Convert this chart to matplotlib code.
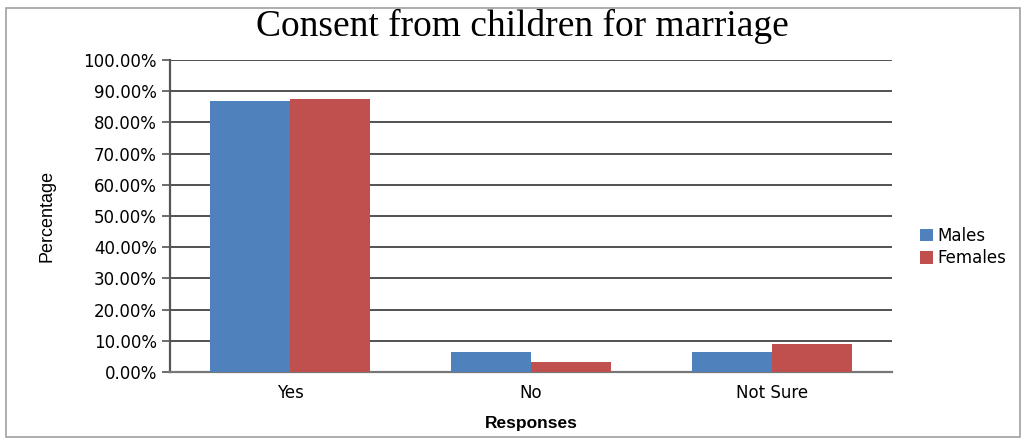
import numpy as np
import matplotlib.pyplot as plt
from matplotlib.patches import Rectangle
from matplotlib.ticker import FuncFormatter, MultipleLocator

# Share of respondents (%) by response
responses = ['Yes', 'No', 'Not Sure']
males = [87.0, 6.4, 6.4]
females = [87.5, 3.3, 9.0]

blue = '#4f81bd'
red = '#c0504d'

fig = plt.figure(figsize=(10.28, 4.43), dpi=100)
fig.patches.append(Rectangle((0.006, 0.014), 0.986, 0.968, transform=fig.transFigure,
                             fill=False, edgecolor='#a0a0a0', linewidth=1.2))

ax = fig.add_axes([0.1654, 0.1603, 0.7023, 0.7043])
x = np.arange(len(responses))
w = 0.333
ax.bar(x - w / 2, males, w, color=blue, label='Males', zorder=3)
ax.bar(x + w / 2, females, w, color=red, label='Females', zorder=3)

ax.set_xlim(-0.5, 2.5)
ax.set_ylim(0, 100)
ax.yaxis.set_major_locator(MultipleLocator(10))
ax.yaxis.set_major_formatter(FuncFormatter(lambda v, p: f'{v:.2f}%'))
ax.grid(axis='y', color='#222222', linewidth=1.1, zorder=0)
ax.set_xticks(x)
ax.set_xticklabels(responses, fontsize=12)
ax.tick_params(axis='y', labelsize=12, length=6, width=1.2, color='#555555')
ax.tick_params(axis='x', length=0, pad=9)
for s in ['top', 'right']:
    ax.spines[s].set_visible(False)
ax.spines['left'].set_color('#555555')
ax.spines['left'].set_linewidth(1.6)
ax.spines['bottom'].set_color('#777777')
ax.spines['bottom'].set_linewidth(1.6)

ax.set_xlabel('Responses', fontsize=12.5, fontweight='bold',
              family='Liberation Sans', labelpad=10)
ax.set_ylabel('Percentage', fontsize=13, family='Liberation Sans', labelpad=20)

fig.text(0.508, 0.918, 'Consent from children for marriage', family='Liberation Serif',
         fontsize=27, ha='center', va='baseline')

ax.legend(loc='center left', bbox_to_anchor=(1.03, 0.40), frameon=False,
          fontsize=12, handlelength=0.75, handleheight=0.75,
          handletextpad=0.3, labelspacing=0.25, borderaxespad=0)

fig.savefig('out.png', dpi=100)
